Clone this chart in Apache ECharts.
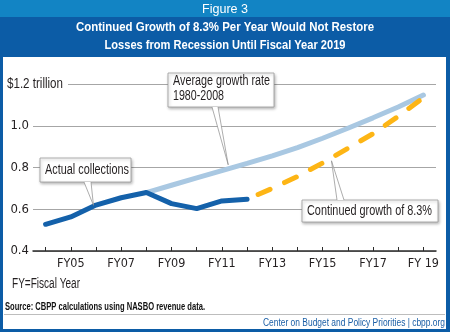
<!DOCTYPE html>
<html>
<head>
<meta charset="utf-8">
<script src="https://cdn.jsdelivr.net/npm/echarts@6/dist/echarts.min.js"></script>
<style>
html,body{margin:0;padding:0;background:#fff;}
#c{width:450px;height:332px;}
</style>
</head>
<body>
<div id="c"></div>
<script>
// ---- data ----
var categories = ['FY04','FY05','FY06','FY07','FY08','FY09','FY10','FY11','FY12','FY13','FY14','FY15','FY16','FY17','FY18','FY19'];
var xTickLabels = ['', 'FY05', '', 'FY07', '', 'FY09', '', 'FY11', '', 'FY13', '', 'FY15', '', 'FY17', '', 'FY 19'];
var actualCollections = [0.528, 0.563, 0.620, 0.655, 0.680, 0.627, 0.603, 0.640, 0.648, null, null, null, null, null, null, null];
var averageGrowth = [null, null, null, null, 0.680, 0.715, 0.750, 0.785, 0.820, 0.856, 0.895, 0.940, 0.988, 1.038, 1.090, 1.147];
var continuedGrowth = [null, null, null, null, null, null, null, null, 0.648, 0.700, 0.757, 0.822, 0.892, 0.962, 1.045, 1.135];
var yTicks = [0.4, 0.6, 0.8, 1.0, 1.2];
var yTopLabel = '$1.2 trillion';
var figureLabel = 'Figure 3';
var titleLines = ['Continued Growth of 8.3% Per Year Would Not Restore', 'Losses from Recession Until Fiscal Year 2019'];
var noteText = 'FY=Fiscal Year';
var sourceText = 'Source: CBPP calculations using NASBO revenue data.';
var creditText = 'Center on Budget and Policy Priorities | cbpp.org';
var labelAvg = ['Average growth rate', '1980-2008'];
var labelActual = 'Actual collections';
var labelContinued = 'Continued growth of 8.3%';

var FONT = '"Liberation Sans", Arial, sans-serif';
var AXFONT = '"DejaVu Sans Condensed", "Liberation Sans", sans-serif';
var DARK = '#0c5ca6';
var TXT = '#231f20';

var mctx = document.createElement('canvas').getContext('2d');
function fitScale(text, font, target) {
  mctx.font = font;
  var w = mctx.measureText(text).width;
  return w > 0 ? target / w : 1;
}
// text drawn in a condensed manner: font by height, horizontal scale to the reference width
function ctext(x, y, text, size, weight, target, fill, align, z) {
  var font = (weight ? weight + ' ' : '') + size + 'px ' + FONT;
  var s = fitScale(text, font, target);
  return {
    type: 'text', x: x, y: y, scaleX: s, scaleY: 1, z: z || 60,
    style: {x: 0, y: 0, text: text, fill: fill, font: font, textAlign: align, textVerticalAlign: 'middle'}
  };
}

var chart = echarts.init(document.getElementById('c'), null, {renderer: 'canvas'});

var option = {
  animation: false,
  backgroundColor: DARK,
  grid: {left: 33, right: 14, top: 84, bottom: 81, containLabel: false},
  xAxis: {
    type: 'category',
    data: categories,
    boundaryGap: true,
    axisLine: {lineStyle: {color: '#2b2b2b', width: 1.5}},
    axisTick: {show: true, alignWithLabel: true, inside: true, length: 4, interval: 0, lineStyle: {color: '#2b2b2b', width: 1}},
    axisLabel: {
      interval: 0, margin: 6,
      fontFamily: AXFONT, fontSize: 12.5, color: TXT,
      formatter: function (v, i) { return xTickLabels[i]; }
    },
    splitLine: {show: false}
  },
  yAxis: {
    type: 'value',
    min: 0.4, max: 1.2, interval: 0.2,
    axisLine: {show: false},
    axisTick: {show: false},
    splitLine: {lineStyle: {color: '#a6a6a6', width: 1}},
    axisLabel: {
      align: 'right', margin: 4,
      fontFamily: AXFONT, fontSize: 13, color: TXT,
      formatter: function (v) {
        if (Math.abs(v - 1.2) < 1e-6) return '';
        return v.toFixed(1);
      }
    }
  },
  series: [
    {
      name: 'Average growth rate 1980-2008', type: 'line', data: averageGrowth,
      showSymbol: false, symbol: 'none', z: 2,
      lineStyle: {color: '#a9c8e2', width: 5, cap: 'round'}
    },
    {
      name: 'Continued growth of 8.3%', type: 'line', data: continuedGrowth,
      showSymbol: false, symbol: 'none', z: 3,
      lineStyle: {color: '#fdb515', width: 5, type: [13, 16], dashOffset: 17, cap: 'round'}
    },
    {
      name: 'Actual collections', type: 'line', data: actualCollections,
      showSymbol: false, symbol: 'none', z: 4,
      lineStyle: {color: '#1461aa', width: 5, cap: 'round', join: 'round'}
    }
  ]
};
chart.setOption(option);

function px(idx, val) { return chart.convertToPixel({gridIndex: 0}, [idx, val]); }

function callout(box, textLines, targets, tip, b1, b2, lineYs) {
  var els = [];
  els.push({
    type: 'rect', z: 50,
    shape: {x: box[0], y: box[1], width: box[2], height: box[3]},
    style: {fill: '#fff', stroke: '#9a9a9a', lineWidth: 0.8, shadowBlur: 3, shadowColor: 'rgba(0,0,0,0.28)', shadowOffsetX: 1, shadowOffsetY: 1.5}
  });
  els.push({
    type: 'polygon', z: 51,
    shape: {points: [b1, tip, b2]},
    style: {fill: '#fff', stroke: 'rgba(0,0,0,0)'}
  });
  els.push({type: 'line', z: 52, shape: {x1: b1[0], y1: b1[1], x2: tip[0], y2: tip[1]}, style: {stroke: '#8a8a8a', lineWidth: 0.7}});
  els.push({type: 'line', z: 52, shape: {x1: b2[0], y1: b2[1], x2: tip[0], y2: tip[1]}, style: {stroke: '#8a8a8a', lineWidth: 0.7}});
  textLines.forEach(function (t, i) {
    els.push(ctext(box[0] + 5, lineYs[i], t, 14, '', targets[i], TXT, 'left', 53));
  });
  return els;
}

// tips anchored to the data through the chart's scales
var pA = px(7, averageGrowth[7]); var pA2 = px(8, averageGrowth[8]);
var tipAvg = [pA[0] + (pA2[0] - pA[0]) * 0.25, pA[1] + (pA2[1] - pA[1]) * 0.25 - 4];
var pC = px(1, actualCollections[1]); var pC2 = px(2, actualCollections[2]);
var tipAct = [pC[0] + (pC2[0] - pC[0]) * 0.9, pC[1] + (pC2[1] - pC[1]) * 0.9 - 1];
var pO = px(11, continuedGrowth[11]); var pO2 = px(12, continuedGrowth[12]);
var tipCont = [pO[0] + (pO2[0] - pO[0]) * 0.35, pO[1] + (pO2[1] - pO[1]) * 0.35 + 3];
var yTop = chart.convertToPixel({yAxisIndex: 0}, 1.2);

var graphics = [
  {type: 'rect', z: -10, shape: {x: 3, y: 57, width: 443, height: 272}, style: {fill: '#fff'}},
  {type: 'rect', z: -9, shape: {x: 0, y: 0, width: 450, height: 17}, style: {fill: '#1284c4'}},
  ctext(225, 9, figureLabel, 13.5, '', 46, '#fff', 'center', 10),
  ctext(225, 27, titleLines[0], 13, 'bold', 298, '#fff', 'center', 10),
  ctext(225, 45, titleLines[1], 13, 'bold', 241, '#fff', 'center', 10),
  {type: 'rect', z: 1, shape: {x: 33, y: yTop - 3, width: 35, height: 6}, style: {fill: '#fff'}},
  ctext(7, yTop, yTopLabel, 14, '', 56, TXT, 'left', 10),
  ctext(12, 284, noteText, 14, '', 68, TXT, 'left', 10),
  ctext(5, 307, sourceText, 10, 'bold', 200, '#111', 'left', 10),
  {type: 'line', z: 10, shape: {x1: 4, y1: 314.5, x2: 445, y2: 314.5}, style: {stroke: '#bdbdbd', lineWidth: 1}},
  ctext(445, 323, creditText, 10, '', 182, '#1a5ea6', 'right', 10)
];
graphics = graphics
  .concat(callout([168, 73, 106, 34], labelAvg, [97, 51], tipAvg, [212, 107], [218, 107], [81, 96]))
  .concat(callout([40, 158, 91, 24], [labelActual], [84], tipAct, [84, 182], [91, 182], [170]))
  .concat(callout([302, 200, 136, 22], [labelContinued], [125], tipCont, [337, 200], [344, 200], [211]));

chart.setOption({graphic: graphics});
</script>
</body>
</html>
